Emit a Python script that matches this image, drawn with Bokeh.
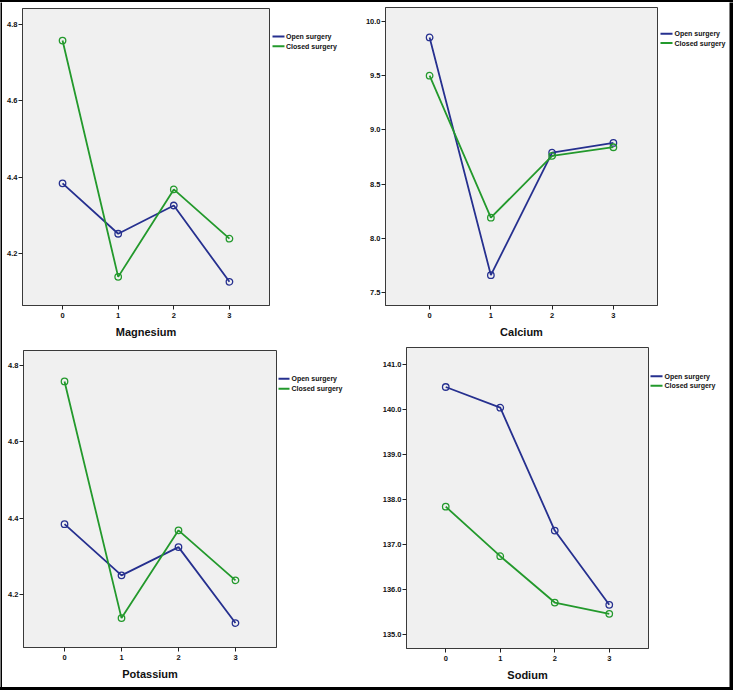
from bokeh.plotting import figure
from bokeh.models import Range1d, FixedTicker, NumeralTickFormatter, Div
from bokeh.core.properties import value
from bokeh.layouts import column, row
from bokeh.embed import file_html
from bokeh.resources import INLINE

# ---------------- data ----------------
time_points = [0, 1, 2, 3]
series_labels = ["Open surgery", "Closed surgery"]

magnesium_open = [4.384, 4.252, 4.326, 4.126]
magnesium_closed = [4.758, 4.139, 4.368, 4.239]

calcium_open = [9.853, 7.66, 8.79, 8.88]
calcium_closed = [9.50, 8.19, 8.76, 8.84]

potassium_open = [4.384, 4.250, 4.324, 4.125]
potassium_closed = [4.758, 4.138, 4.368, 4.237]

sodium_open = [140.50, 140.04, 137.31, 135.66]
sodium_closed = [137.84, 136.74, 135.71, 135.46]

x_ticks = [0, 1, 2, 3]
mg_ticks = [4.2, 4.4, 4.6, 4.8]
ca_ticks = [7.5, 8.0, 8.5, 9.0, 9.5, 10.0]
k_ticks = [4.2, 4.4, 4.6, 4.8]
na_ticks = [135.0, 136.0, 137.0, 138.0, 139.0, 140.0, 141.0]

# ---------------- style ----------------
BLUE = "#26308f"
GREEN = "#23992c"
COLORS = [BLUE, GREEN]
FONT = "Liberation Sans Narrow, Liberation Sans, Arial, sans-serif"


def panel(name, open_vals, closed_vals, yticks, yr, width, height,
          bl, fw, bt, bb, leg):
    pw = bl + fw + 1
    p = figure(width=pw, height=height, title=None,
               x_range=Range1d(-0.72, 3.72), y_range=Range1d(*yr),
               output_backend="svg", toolbar_location=None,
               min_border_left=bl, min_border_right=1,
               min_border_top=bt, min_border_bottom=bb)
    p.background_fill_color = "#f0f0f0"
    p.border_fill_color = "white"
    p.outline_line_color = "#3a3a3a"
    p.outline_line_width = 1
    p.xgrid.visible = False
    p.ygrid.visible = False

    for vals, col in ((open_vals, BLUE), (closed_vals, GREEN)):
        p.line(time_points, vals, line_color=col, line_width=1.8)
        p.scatter(time_points, vals, marker="circle", size=6.5,
                  line_color=col, line_width=1.3, fill_color=None)

    for ax in (p.xaxis[0], p.yaxis[0]):
        ax.axis_line_color = "#3a3a3a"
        ax.major_tick_in = 0
        ax.major_tick_out = 4
        ax.major_tick_line_color = "#222222"
        ax.minor_tick_line_color = None
        ax.major_label_text_font = FONT
        ax.major_label_text_font_size = "7.5px"
        ax.major_label_text_font_style = "bold"
        ax.major_label_text_color = "#111111"

    p.xaxis.ticker = FixedTicker(ticks=x_ticks)
    p.xaxis.major_label_standoff = 3
    p.xaxis.axis_label = name
    p.xaxis.axis_label_standoff = 5
    p.xaxis.axis_label_text_font = FONT
    p.xaxis.axis_label_text_font_size = "11px"
    p.xaxis.axis_label_text_font_style = "bold"
    p.xaxis.axis_label_text_color = "#111111"

    p.yaxis.ticker = FixedTicker(ticks=yticks)
    p.yaxis.formatter = NumeralTickFormatter(format="0.0")
    p.yaxis.major_label_standoff = 1

    # legend panel (screen-like coordinates, y downwards)
    lw = width - pw
    x0, x1, tx, ya, yb = leg
    lg = figure(width=lw, height=height, title=None, output_backend="svg",
                toolbar_location=None, min_border=0,
                x_axis_location=None, y_axis_location=None,
                x_range=Range1d(0, lw), y_range=Range1d(height, 0))
    lg.grid.visible = False
    lg.outline_line_color = None
    lg.background_fill_color = "white"
    lg.border_fill_color = "white"
    ys = [ya, yb]
    lg.segment(x0=[x0, x0], x1=[x1, x1], y0=ys, y1=ys, line_color=COLORS, line_width=2)
    lg.text(x=[tx, tx], y=ys, text=series_labels, text_font=value(FONT),
            text_font_size="7px", text_font_style="bold", text_color="#111111",
            text_baseline="middle", text_align="left")
    return row(p, lg)


p1 = panel("Magnesium", magnesium_open, magnesium_closed, mg_ticks, (4.064, 4.842),
           353, 339, 20, 247, 6, 36, (2, 14, 15.5, 32, 43))
p2 = panel("Calcium", calcium_open, calcium_closed, ca_ticks, (7.380, 10.129),
           374, 339, 30, 272, 5, 36, (2, 14, 16, 30, 40.5))
p3 = panel("Potassium", potassium_open, potassium_closed, k_ticks, (4.061, 4.839),
           353, 346, 21, 253, 9, 40, (1, 12, 14, 33, 44.5))
p4 = panel("Sodium", sodium_open, sodium_closed, na_ticks, (134.689, 141.378),
           374, 346, 51, 242, 6, 39, (1, 13, 15, 33, 44))


def vbar(w, h):
    b = figure(width=w, height=h, output_backend="svg", toolbar_location=None,
               min_border=0, title=None, x_axis_location=None, y_axis_location=None,
               x_range=Range1d(0, 1), y_range=Range1d(0, 1))
    b.grid.visible = False
    b.outline_line_color = None
    b.background_fill_color = "black"
    b.border_fill_color = "black"
    return b


def hbar(w, h):
    return Div(text="", width=w, height=h, margin=0,
               styles={"background-color": "black", "overflow": "hidden"})


inner = column(row(p1, p2), row(p3, p4))
layout = column(hbar(733, 2), row(vbar(2, 685), inner, vbar(4, 685)), hbar(733, 3))

open("out.html", "w").write(file_html(layout, INLINE))
